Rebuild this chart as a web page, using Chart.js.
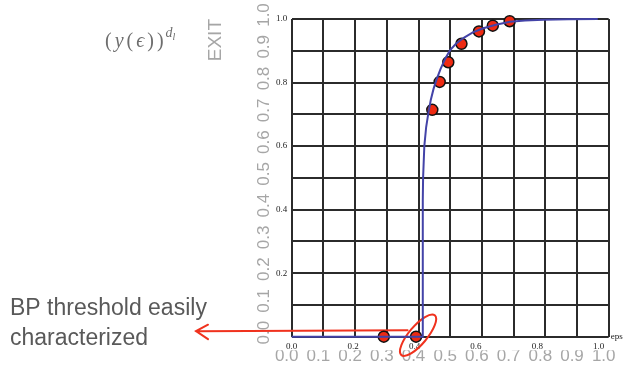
<!DOCTYPE html>
<html>
<head>
<meta charset="utf-8">
<script src="https://cdn.jsdelivr.net/npm/chart.js@4/dist/chart.umd.min.js"></script>
<style>
  html, body { margin: 0; padding: 0; background: #fff; }
  #exitChart { display: block; }
</style>
</head>
<body>
<canvas id="exitChart" width="624" height="369"></canvas>
<script>
// EXIT curve (blue line)
const curveEps  = [0, 0.427, 0.427, 0.428, 0.432, 0.438, 0.445, 0.453, 0.462, 0.472, 0.485, 0.5, 0.516, 0.535, 0.559, 0.59, 0.624, 0.665, 0.711, 0.76, 0.82, 0.9, 0.997];
const curveExit = [0, 0, 0.43, 0.5, 0.6, 0.66, 0.703, 0.745, 0.78, 0.81, 0.843, 0.875, 0.902, 0.922, 0.94, 0.958, 0.971, 0.982, 0.991, 0.995, 0.998, 0.9995, 1.0];

// simulated points (red dots)
const pointEps  = [0.30, 0.405, 0.458, 0.482, 0.51, 0.553, 0.61, 0.655, 0.71];
const pointExit = [0, 0, 0.714, 0.802, 0.864, 0.922, 0.961, 0.979, 0.993];

// tick labels
const xTicks    = [0, 0.2, 0.4, 0.6, 0.8, 1.0];
const yTicks    = [0.2, 0.4, 0.6, 0.8, 1.0];
const gridTicks = [0, 0.1, 0.2, 0.3, 0.4, 0.5, 0.6, 0.7, 0.8, 0.9, 1.0];

const GRID = '#2b2b2b';
const GREY = '#a6a6a6';
const fmt = v => v.toFixed(1);
const setTicks = list => axis => { axis.ticks = list.map(v => ({ value: v })); };

// annotations drawn on top: arrow, ellipse, texts
const notes = {
  id: 'notes',
  beforeDatasetsDraw(chart) {
    const { ctx, scales: { x, y } } = chart;
    const cx = x.getPixelForValue(0.41);
    const cy = y.getPixelForValue(0);
    ctx.save();
    ctx.strokeStyle = '#f0321e';
    ctx.lineWidth = 2;
    ctx.lineCap = 'round';
    ctx.beginPath();
    ctx.moveTo(cx - 10, cy - 6.5);
    ctx.lineTo(196, cy - 5.5);
    ctx.moveTo(208, cy - 12);
    ctx.lineTo(196, cy - 5.5);
    ctx.lineTo(208, cy + 2.5);
    ctx.stroke();
    ctx.beginPath();
    ctx.ellipse(cx + 0.5, cy - 1.5, 26, 9, -50 * Math.PI / 180, 0, 2 * Math.PI);
    ctx.stroke();
    ctx.restore();
  },
  afterDraw(chart) {
    const { ctx, chartArea } = chart;
    ctx.save();
    ctx.textBaseline = 'alphabetic';

    ctx.fillStyle = '#595959';
    ctx.font = '23px "Liberation Sans"';
    ctx.fillText('BP threshold easily', 10, 315);
    ctx.fillText('characterized', 10, 345);

    ctx.fillStyle = '#222';
    ctx.font = '9px "Liberation Serif"';
    ctx.fillText('eps', chartArea.right + 2, chartArea.bottom + 2);

    // (y(ϵ))^{d_l}
    ctx.fillStyle = '#6e6e6e';
    let fx = 105;
    const by = 47;
    const part = (t, font, dy, gap) => {
      ctx.font = font;
      ctx.fillText(t, fx, by + dy);
      fx += ctx.measureText(t).width + gap;
    };
    const up = '20px "Liberation Serif"';
    const it = 'italic 20px "Liberation Serif"';
    part('(', up, 0, 3);
    part('y', it, 0, 3);
    part('(', up, 0, 3);
    part('ϵ', it, 0, 3);
    part(')', up, 0, 3);
    part(')', up, 0, 2);
    part('d', 'italic 14px "Liberation Serif"', -10, 0);
    part('l', 'italic 10px "Liberation Serif"', -7, 0);
    ctx.restore();
  }
};

new Chart(document.getElementById('exitChart').getContext('2d'), {
  type: 'scatter',
  data: {
    datasets: [{
      label: 'EXIT',
      data: curveEps.map((e, i) => ({ x: e, y: curveExit[i] })),
      showLine: true,
      borderColor: '#4343a8',
      borderWidth: 2,
      pointRadius: 0,
      tension: 0,
      clip: false,
      xAxisID: 'x',
      yAxisID: 'y'
    }, {
      label: 'points',
      data: pointEps.map((e, i) => ({ x: e, y: pointExit[i] })),
      backgroundColor: '#ee2a12',
      borderColor: '#111',
      borderWidth: 1.5,
      pointRadius: 5.5,
      clip: false,
      xAxisID: 'x',
      yAxisID: 'y'
    }]
  },
  options: {
    responsive: false,
    animation: false,
    layout: { padding: { left: 195, top: 19, right: 15.3, bottom: 0 } },
    plugins: {
      legend: { display: false },
      tooltip: { enabled: false }
    },
    scales: {
      x: {
        type: 'linear', position: 'bottom', weight: 0,
        min: 0, max: 317 / 307,
        grid: { display: false, drawTicks: false }, border: { display: false },
        ticks: { font: { family: 'Liberation Serif', size: 9 }, color: '#222', padding: 4.8, maxRotation: 0, autoSkip: false, callback: fmt },
        afterBuildTicks: setTicks(xTicks),
        afterFit: s => { s.height = 13.5; }
      },
      xg: {
        type: 'linear', position: 'bottom', weight: 1,
        min: 0, max: 1,
        grid: { color: GRID, lineWidth: 2, drawTicks: false }, border: { display: false },
        ticks: { font: { family: 'Liberation Sans', size: 17 }, color: GREY, padding: -4.1, labelOffset: -5, maxRotation: 0, autoSkip: false, callback: fmt },
        afterBuildTicks: setTicks(gridTicks),
        afterFit: s => { s.height = 18.8; }
      },
      y: {
        type: 'linear', position: 'left', weight: 0,
        min: 0, max: 1,
        grid: { display: false, drawTicks: false }, border: { display: false },
        ticks: { font: { family: 'Liberation Serif', size: 9 }, color: '#222', padding: 4.5, autoSkip: false, callback: fmt },
        afterBuildTicks: setTicks(yTicks),
        afterFit: s => { s.width = 18.7; }
      },
      yg: {
        type: 'linear', position: 'left', weight: 1,
        min: 0, max: 1,
        grid: { color: GRID, lineWidth: 2, drawTicks: false }, border: { display: false },
        ticks: { font: { family: 'Liberation Sans', size: 17 }, color: GREY, padding: -2.8, labelOffset: -4, minRotation: 90, maxRotation: 90, crossAlign: 'center', autoSkip: false, callback: fmt },
        title: { display: true, text: 'EXIT', align: 'end', color: GREY, font: { family: 'Liberation Sans', size: 19 }, padding: { top: 9.6, bottom: 0 } },
        afterBuildTicks: setTicks(gridTicks),
        afterFit: s => { s.width = 78; }
      }
    }
  },
  plugins: [notes]
});
</script>
</body>
</html>
